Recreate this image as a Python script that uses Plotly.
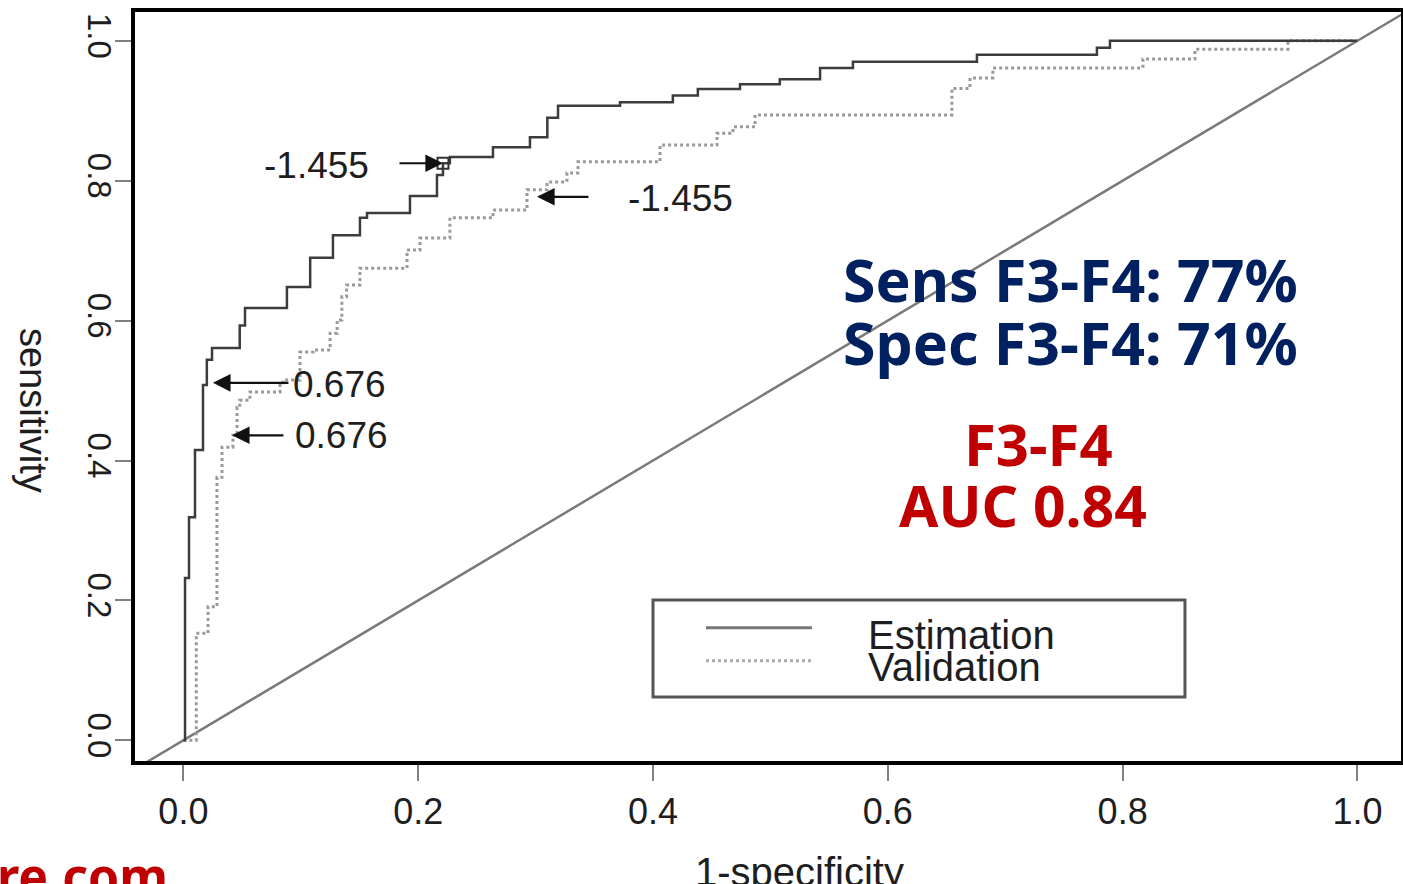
import plotly.graph_objects as go

# ---- data ----
est_fpr = [0.0, 0.0014, 0.0048, 0.0099, 0.0167, 0.020, 0.0244, 0.048, 0.0525, 0.0882, 0.108,
           0.1274, 0.1504, 0.1564, 0.193, 0.216, 0.2211, 0.227, 0.2637, 0.2952, 0.310, 0.3191,
           0.3719, 0.4169, 0.4382, 0.4741, 0.508, 0.5423, 0.5703, 0.6759, 0.7781, 0.7892, 1.0]
est_tpr = [0.0, 0.232, 0.319, 0.415, 0.508, 0.544, 0.561, 0.593, 0.618, 0.648, 0.690,
           0.722, 0.747, 0.754, 0.778, 0.808, 0.825, 0.834, 0.848, 0.862, 0.890, 0.907,
           0.912, 0.922, 0.931, 0.938, 0.945, 0.961, 0.970, 0.980, 0.990, 1.0, 1.0]

val_fpr = [0.0, 0.011, 0.021, 0.0286, 0.0329, 0.0422, 0.0457, 0.048, 0.0567, 0.0823, 0.0848,
           0.0993, 0.1104, 0.125, 0.131, 0.135, 0.139, 0.1504, 0.1905, 0.2015, 0.227, 0.2637,
           0.2927, 0.3097, 0.3267, 0.3361, 0.406, 0.4545, 0.4681, 0.4869, 0.6546, 0.670, 0.6895,
           0.8173, 0.8616, 0.9408, 1.0]
val_tpr = [0.0, 0.153, 0.191, 0.376, 0.419, 0.436, 0.476, 0.486, 0.498, 0.511, 0.515,
           0.555, 0.558, 0.582, 0.601, 0.634, 0.651, 0.675, 0.701, 0.718, 0.747, 0.758,
           0.787, 0.798, 0.811, 0.827, 0.851, 0.868, 0.877, 0.894, 0.932, 0.947, 0.961,
           0.974, 0.988, 1.0, 1.0]

chance = [-0.05, 1.05]

tick_vals = [0.0, 0.2, 0.4, 0.6, 0.8, 1.0]
tick_text = ["0.0", "0.2", "0.4", "0.6", "0.8", "1.0"]

# cut-off labels: (label, point x, point y, tail x, tail y, label x, label y)
cutoffs = [
    ("-1.455", 0.2211, 0.825, 0.1828, 0.825, 0.113, 0.822),
    ("-1.455", 0.3012, 0.777, 0.3463, 0.777, 0.423, 0.775),
    ("0.676", 0.0252, 0.511, 0.0908, 0.511, 0.1334, 0.509),
    ("0.676", 0.0414, 0.436, 0.0865, 0.436, 0.135, 0.436),
]

series_names = ["Estimation", "Validation"]

TXT = "#1e1e1e"
FONT = "Liberation Sans, Arial, sans-serif"

fig = go.Figure()
fig.add_trace(go.Scatter(x=chance, y=chance, mode="lines",
                         line=dict(color="#7a7a7a", width=2.5), hoverinfo="skip"))
fig.add_trace(go.Scatter(x=val_fpr, y=val_tpr, mode="lines", line_shape="hv",
                         name=series_names[1],
                         line=dict(color="#9a9a9a", width=3, dash="dot")))
fig.add_trace(go.Scatter(x=est_fpr, y=est_tpr, mode="lines", line_shape="hv",
                         name=series_names[0],
                         line=dict(color="#3c3c3c", width=2.5)))
fig.add_trace(go.Scatter(x=[cutoffs[0][1]], y=[cutoffs[0][2]], mode="markers",
                         marker=dict(symbol="square-open", size=11, color="#333",
                                     line=dict(width=2))))

annotations = []
for lab, px_, py_, tx, ty, lx, ly in cutoffs:
    annotations.append(dict(x=px_, y=py_, ax=tx, ay=ty, xref="x", yref="y",
                            axref="x", ayref="y", text="", showarrow=True,
                            arrowhead=2, arrowsize=1.6, arrowwidth=2.2,
                            arrowcolor="#111", standoff=0))
    annotations.append(dict(x=lx, y=ly, xref="x", yref="y", text=lab, showarrow=False,
                            font=dict(family=FONT, size=37, color=TXT)))

BIG = "Noto Sans, Open Sans, sans-serif"
annotations += [
    dict(x=0.560, y=0.660, xref="x", yref="y", xanchor="left", text="<b>Sens F3-F4: 77%</b>",
         showarrow=False, font=dict(family=BIG, size=59, color="#002060")),
    dict(x=0.560, y=0.570, xref="x", yref="y", xanchor="left", text="<b>Spec F3-F4: 71%</b>",
         showarrow=False, font=dict(family=BIG, size=59, color="#002060")),
    dict(x=0.728, y=0.425, xref="x", yref="y", text="<b>F3-F4</b>",
         showarrow=False, font=dict(family=BIG, size=58, color="#C00000")),
    dict(x=0.715, y=0.337, xref="x", yref="y", text="<b>AUC 0.84</b>",
         showarrow=False, font=dict(family=BIG, size=57, color="#C00000")),
    # legend texts
    dict(x=0.5814, y=0.1505, xref="x", yref="y", xanchor="left", text=series_names[0],
         showarrow=False, font=dict(family=FONT, size=40, color=TXT)),
    dict(x=0.5814, y=0.1048, xref="x", yref="y", xanchor="left", text=series_names[1],
         showarrow=False, font=dict(family=FONT, size=40, color=TXT)),
    # axis titles
    dict(x=0.5245, y=-0.1162, xref="paper", yref="paper", yanchor="top", text="1-specificity",
         showarrow=False, font=dict(family=FONT, size=40, color=TXT)),
    dict(x=-0.0987, y=0.4686, xref="paper", yref="paper", text="sensitivity", textangle=90,
         showarrow=False, font=dict(family=FONT, size=38, color=TXT)),
    # watermark fragment
    dict(x=0.0277, y=-0.2017, xref="paper", yref="paper", xanchor="right", yanchor="bottom",
         text="<b>re.com</b>", showarrow=False,
         font=dict(family=BIG, size=50, color="#C00000")),
]

shapes = [
    dict(type="rect", xref="x", yref="y", x0=0.400, x1=0.8531, y0=0.0619, y1=0.2006,
         line=dict(color="#555", width=3), fillcolor="white", layer="below"),
    dict(type="line", xref="x", yref="y", x0=0.4451, x1=0.5354, y0=0.1608, y1=0.1608,
         line=dict(color="#777", width=3)),
    dict(type="line", xref="x", yref="y", x0=0.4451, x1=0.5354, y0=0.1136, y1=0.1136,
         line=dict(color="#aaa", width=3, dash="dot")),
]

axis_common = dict(showline=True, linewidth=3.5, linecolor="black", mirror=True,
                   ticks="outside", ticklen=16, tickwidth=2, tickcolor="#808080",
                   showgrid=False, zeroline=False, tickvals=tick_vals, ticktext=tick_text,
                   automargin=False)

fig.update_layout(
    width=1403, height=884,
    margin=dict(l=135, r=2, t=12, b=123, autoexpand=False),
    paper_bgcolor="white", plot_bgcolor="white",
    showlegend=False,
    xaxis=dict(range=[-0.0412, 1.0371], tickfont=dict(family=FONT, size=36, color=TXT),
               **axis_common),
    yaxis=dict(range=[-0.0296, 1.0412], tickangle=90, ticklabelstandoff=-12,
               tickfont=dict(family=FONT, size=33, color=TXT), **axis_common),
    annotations=annotations, shapes=shapes,
)

fig.write_html("out.html", config={"displayModeBar": False},
               post_script="document.body.style.margin='0px';document.body.style.overflow='hidden';")
